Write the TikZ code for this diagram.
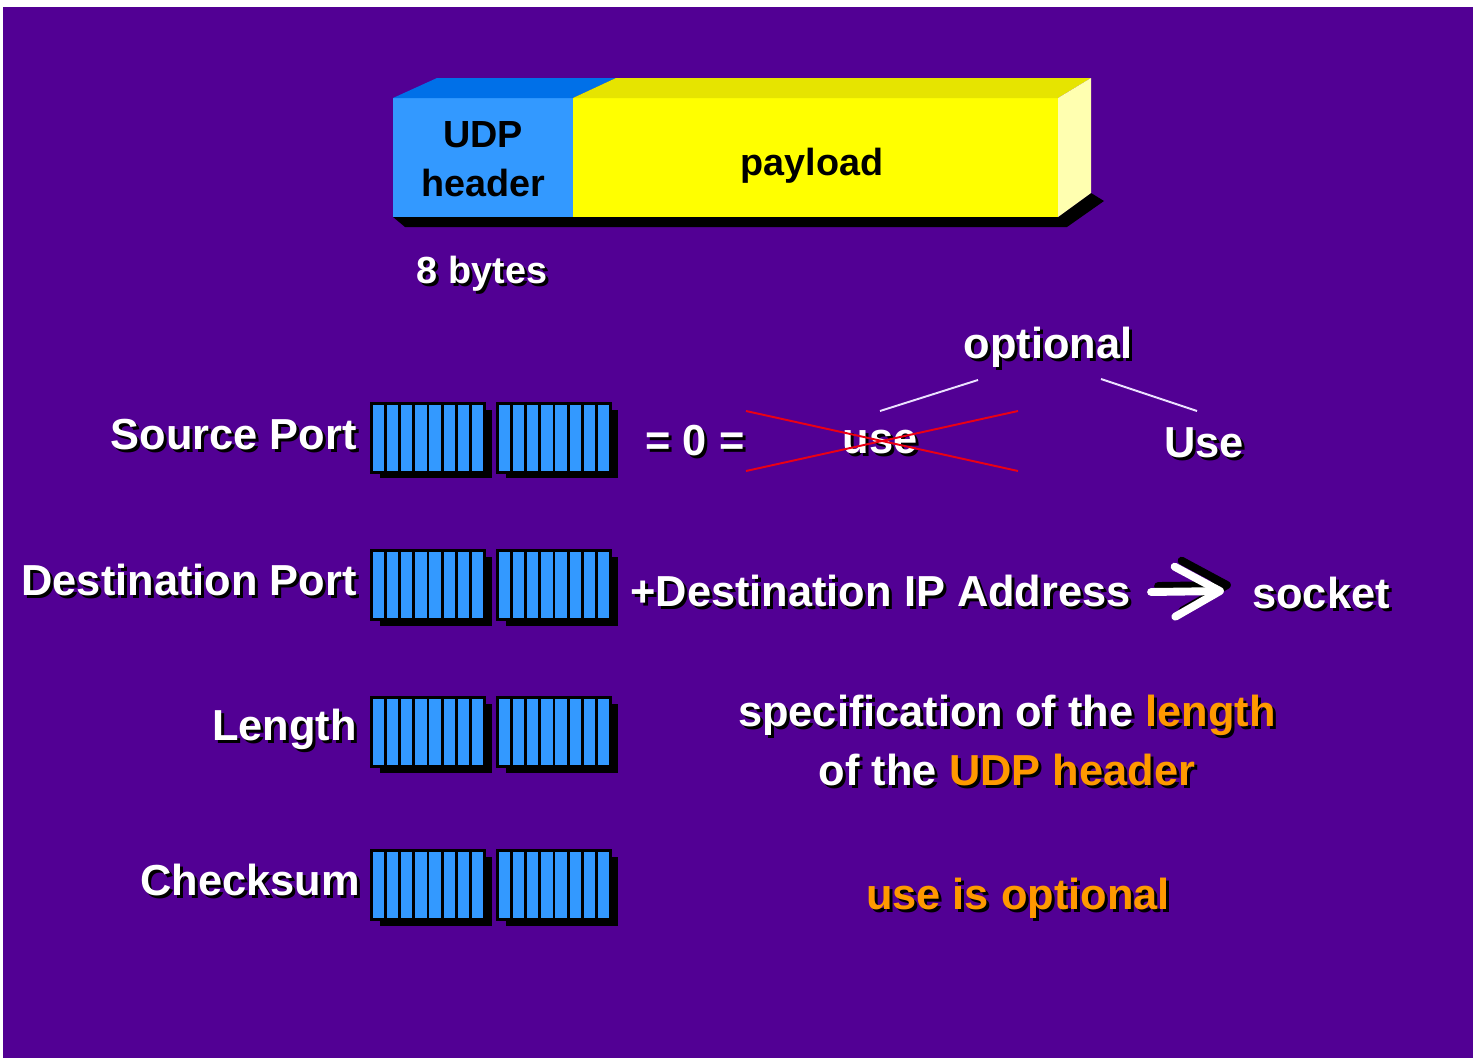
\documentclass[tikz,border=0pt]{standalone}
\usepackage{fontspec}
\setmainfont{Liberation Sans}
\usetikzlibrary{arrows.meta,shadows,calc}

\definecolor{slide}{RGB}{82,0,148}
\definecolor{fieldblue}{RGB}{51,153,255}
\definecolor{topblue}{RGB}{0,112,232}
\definecolor{frontyellow}{RGB}{255,255,0}
\definecolor{topyellow}{RGB}{230,228,0}
\definecolor{sideyellow}{RGB}{255,255,176}
\definecolor{accent}{RGB}{255,153,0}
\definecolor{strike}{RGB}{235,0,20}
\definecolor{pale}{RGB}{235,225,255}

% highlighted words; the shadow copy turns them black
\newcommand\acc[1]{\textcolor{accent}{#1}}
\newcommand\shtxt[1]{\makebox[0pt][l]{\hspace{1.7pt}\raisebox{-1.7pt}{\colorlet{accent}{black}\color{black}#1}}#1}

\tikzset{
  lbl/.style={text=white, font=\fontsize{24.7}{30}\selectfont\bfseries, inner sep=0pt},
  boxtxt/.style={text=black, font=\fontsize{21.5}{28}\selectfont\bfseries, align=center, inner sep=0pt},
  bitgroup/.style={rectangle, fill=fieldblue, draw=black, line width=1.4pt,
    minimum width=2.26cm, minimum height=1.38cm, inner sep=0pt,
    drop shadow={shadow xshift=0.16cm, shadow yshift=-0.12cm, fill=black, opacity=1},
    path picture={\foreach \k in {1,...,7}{\draw[black,line width=1.6pt]
      ($(path picture bounding box.south west)!\k/8!(path picture bounding box.south east)$) --
      ($(path picture bounding box.north west)!\k/8!(path picture bounding box.north east)$);}}},
  guide/.style={pale, line width=1.1pt},
  cross/.style={strike, line width=1.1pt},
}

\begin{document}
\begin{tikzpicture}[x=0.02cm, y=-0.02cm]
\useasboundingbox (0,0) rectangle (1473,1058);
\fill[white] (0,0) rectangle (1473,1058);
\fill[slide] (3,7) rectangle (1473,1058);

% datagram bar: shadow, front faces, top faces, side face
\fill[black] (393,217) -- (1058,217) -- (1091,193) -- (1104,201) -- (1067,227) -- (405,227) -- cycle;
\fill[fieldblue] (393,98) rectangle (573,217);
\fill[frontyellow] (573,98) rectangle (1058,217);
\fill[topblue] (393,98) -- (437,78) -- (616,78) -- (573,98) -- cycle;
\fill[topyellow] (573,98) -- (616,78) -- (1091,78) -- (1058,98) -- cycle;
\fill[sideyellow] (1058,98) -- (1091,78) -- (1091,193) -- (1058,217) -- cycle;

\node[boxtxt] (hdr) at (483,159) {UDP\\header};
\node[boxtxt] (payload) at (812,166) {payload};
\node[lbl, font=\fontsize{21.5}{26}\selectfont\bfseries] (bytes) at (482,275) {\shtxt{8 bytes}};

% header fields, two bytes each
\foreach \r/\y in {src/438,dst/585,len/732,chk/885}{
  \node[bitgroup] (\r-a) at (428,\y) {};
  \node[bitgroup] (\r-b) at (554,\y) {};
}

\node[lbl, anchor=east] (srclbl) at (357,436) {\shtxt{Source Port}};
\node[lbl, anchor=east] (dstlbl) at (357,581) {\shtxt{Destination Port}};
\node[lbl, anchor=east] (lenlbl) at (357,731) {\shtxt{Length}};
\node[lbl, anchor=east] (chklbl) at (360,881) {\shtxt{Checksum}};

% source port
\node[lbl] (zero) at (695,442) {\shtxt{= 0 =}};
\node[lbl] (use) at (880,444) {\shtxt{use}};
\node[lbl] (Use) at (1204,444) {\shtxt{Use}};
\node[lbl] (optional) at (1048,349) {\shtxt{optional}};
\coordinate (optL) at (978,380);
\coordinate (optR) at (1101,379);
\coordinate (useTop) at (880,411);
\coordinate (UseTop) at (1197,411);
\draw[guide] (optL) -- (useTop);
\draw[guide] (optR) -- (UseTop);
\draw[cross] ($(use.center)+(-134,-33)$) -- ($(use.center)+(138,27)$);
\draw[cross] ($(use.center)+(-134,27)$) -- ($(use.center)+(138,-33)$);

% destination port
\node[lbl, anchor=west] (addr) at (630,592) {\shtxt{+Destination IP Address}};
\node[lbl] (socket) at (1321,594) {\shtxt{socket}};
\coordinate (arrS) at ($(addr.east)+(20,0)$);
\coordinate (arrE) at ($(socket.west)+(-28,-3)$);
\draw[black, line width=4.5pt, line cap=round, -{Straight Barb[length=0.9cm, width=1cm, round]}]
  ([shift={(7,-6)}]arrS) -- ([shift={(7,-6)}]arrE);
\draw[white, line width=4.5pt, line cap=round, -{Straight Barb[length=0.9cm, width=1cm, round]}]
  (arrS) -- (arrE);

% length
\node[lbl] (lenA) at (1007,717) {\shtxt{specification of the \acc{length}}};
\node[lbl] (lenB) at (1007,771) {\shtxt{of the \acc{UDP header}}};

% checksum
\node[lbl] (chknote) at (1018,900) {\shtxt{\acc{use is optional}}};
\end{tikzpicture}
\end{document}
